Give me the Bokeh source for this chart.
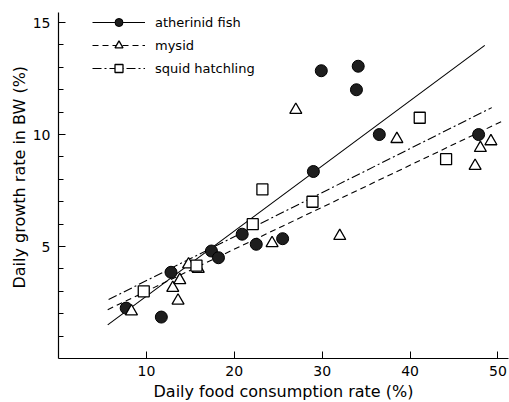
from bokeh.plotting import figure
from bokeh.models import Range1d, Legend, LegendItem, FixedTicker, Title
from bokeh.embed import file_html
from bokeh.resources import INLINE

# ---- data ----
fish_x = [7.7, 11.7, 12.8, 17.4, 18.2, 20.9, 22.5, 25.5, 29.0, 29.9, 33.9, 34.1, 36.5, 47.8]
fish_y = [2.25, 1.85, 3.85, 4.8, 4.5, 5.55, 5.1, 5.35, 8.35, 12.85, 12.0, 13.05, 10.0, 10.0]

mysid_x = [8.3, 13.0, 13.8, 13.6, 14.8, 15.9, 24.3, 27.0, 32.0, 38.5, 47.4, 48.0, 49.2]
mysid_y = [2.1, 3.15, 3.5, 2.58, 4.2, 4.0, 5.15, 11.1, 5.47, 9.8, 8.6, 9.4, 9.7]

squid_x = [9.7, 15.7, 22.1, 23.2, 28.9, 41.1, 44.1]
squid_y = [3.0, 4.15, 6.0, 7.55, 7.0, 10.75, 8.9]

# regression lines: slope, intercept, x-extent
fit_slope = [0.291, 0.1875, 0.1966]
fit_intercept = [-0.13, 1.13, 1.51]
fit_xmin = [5.6, 5.6, 5.7]
fit_xmax = [48.5, 50.5, 49.3]

series_labels = ["atherinid fish", "mysid", "squid hatchling"]
x_ticks = [10, 20, 30, 40, 50]
y_ticks = [5, 10, 15]
y_minor = list(range(1, 16))
x_title = "Daily food consumption rate (%)"
y_title = "Daily growth rate in BW (%)"

FONT = "DejaVu Sans"

p = figure(width=509, height=402, output_backend="svg", toolbar_location=None,
           x_range=Range1d(0, 51.2), y_range=Range1d(0, 15.45),
           min_border_left=58, min_border_right=1, min_border_top=12,
           min_border_bottom=44)
p.outline_line_color = None
p.xgrid.visible = False
p.ygrid.visible = False
p.background_fill_color = "white"

for ax in (p.xaxis[0], p.yaxis[0]):
    ax.axis_line_color = "black"
    ax.axis_line_width = 1.2
    ax.major_tick_in = 7
    ax.major_tick_out = 0
    ax.minor_tick_in = 5
    ax.minor_tick_out = 0
    ax.major_tick_line_color = "black"
    ax.minor_tick_line_color = "black"
    ax.major_label_text_font = FONT
    ax.major_label_text_font_size = "14px"
    ax.major_label_text_color = "black"

p.xaxis.ticker = FixedTicker(ticks=x_ticks, minor_ticks=[])
p.yaxis.ticker = FixedTicker(ticks=y_ticks, minor_ticks=y_minor)
p.xaxis.major_label_standoff = 7
p.yaxis.major_label_standoff = 8

dashes = ["solid", "6 4", "9 3 2 3"]
line_rs = []
for m, b, x0, x1, d in zip(fit_slope, fit_intercept, fit_xmin, fit_xmax, dashes):
    r = p.line([x0, x1], [b + m * x0, b + m * x1], line_color="black",
               line_width=1.1, line_dash=d)
    line_rs.append(r)

r_fish = p.scatter(fish_x, fish_y, marker="circle", size=12,
                   fill_color="#1e1e1e", line_color="black", line_width=1)
r_mysid = p.scatter(mysid_x, mysid_y, marker="triangle", size=12,
                    fill_color="white", line_color="black", line_width=1.3)
r_squid = p.scatter(squid_x, squid_y, marker="square", size=11,
                    fill_color="white", line_color="black", line_width=1.3)

items = [LegendItem(label=series_labels[0], renderers=[line_rs[0], r_fish]),
         LegendItem(label=series_labels[1], renderers=[line_rs[1], r_mysid]),
         LegendItem(label=series_labels[2], renderers=[line_rs[2], r_squid])]
legend = Legend(items=items, location=(34, 280), padding=0, margin=0,
                spacing=3, glyph_width=53, glyph_height=20,
                label_standoff=10, label_text_font=FONT,
                label_text_font_size="13px", label_text_color="black",
                border_line_color=None, background_fill_alpha=0)
p.add_layout(legend)

# axis titles
p.add_layout(Title(text=x_title, align="center", text_font=FONT,
                   text_font_size="16px", text_font_style="normal",
                   text_color="black", standoff=2), "below")
p.add_layout(Title(text=y_title, align="left", offset=70, text_font=FONT,
                   text_font_size="16px", text_font_style="normal",
                   text_color="black", standoff=2), "left")

open("out.html", "w").write(file_html(p, INLINE))
